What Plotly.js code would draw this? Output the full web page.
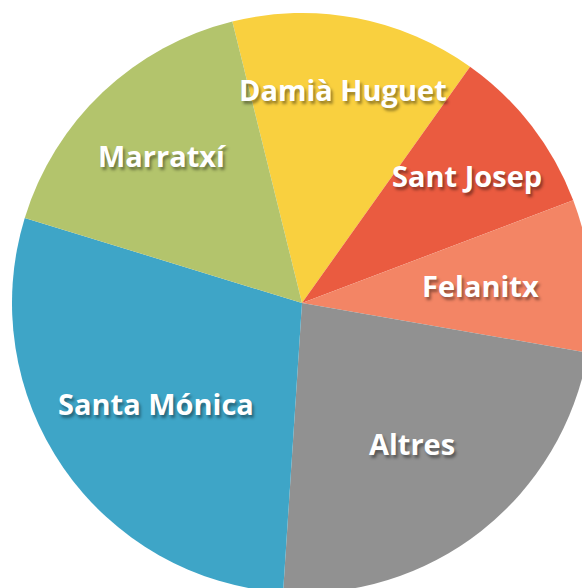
<!DOCTYPE html>
<html>
<head>
<meta charset="utf-8">
<script src="https://cdn.plot.ly/plotly-3.0.1.min.js"></script>
<style>
html,body{margin:0;padding:0;width:582px;height:588px;overflow:hidden;background:#fff;}
#chart{position:absolute;left:12px;top:13px;width:580px;height:580px;}
</style>
</head>
<body>
<div id="chart"></div>
<script>
const labels = ["Damià Huguet", "Sant Josep", "Felanitx", "Altres", "Santa Mónica", "Marratxí"];
const values = [13.7, 9.4, 8.5, 23.3, 28.7, 16.4];
const colors = ["#f9d03f", "#ea5b40", "#f38565", "#919191", "#3ea5c7", "#b3c46c"];

const rotation = -13.9;
const labelRadius = [0.75, 0.72, 0.62, 0.615, 0.61, 0.70];

const total = values.reduce((a, b) => a + b, 0);
let acc = 0;
const annotations = labels.map((t, i) => {
  const mid = rotation + (acc + values[i] / 2) / total * 360;
  acc += values[i];
  const a = mid * Math.PI / 180;
  const f = labelRadius[i];
  return {
    xref: "paper", yref: "paper",
    x: 0.5 + 0.5 * f * Math.sin(a),
    y: 0.5 + 0.5 * f * Math.cos(a),
    text: t, showarrow: false,
    xanchor: "center", yanchor: "middle",
    font: {family: "Open Sans", size: 29, color: "#ffffff", weight: 700,
           shadow: "2px 3px 3px rgba(0,0,0,0.4)"}
  };
});

Plotly.newPlot("chart", [{
  type: "pie",
  labels: labels,
  values: values,
  sort: false,
  direction: "clockwise",
  rotation: rotation,
  marker: {colors: colors, line: {width: 0}},
  textinfo: "none",
  hoverinfo: "label+percent",
  domain: {x: [0, 1], y: [0, 1]}
}], {
  width: 580, height: 580,
  margin: {l: 0, r: 0, t: 0, b: 0},
  showlegend: false,
  paper_bgcolor: "rgba(0,0,0,0)",
  plot_bgcolor: "rgba(0,0,0,0)",
  annotations: annotations
}, {displayModeBar: false, staticPlot: true});
</script>
</body>
</html>
